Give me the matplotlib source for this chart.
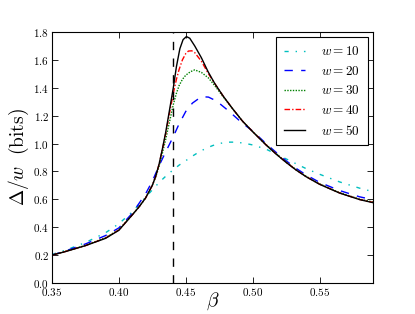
import matplotlib
matplotlib.use("Agg")
import matplotlib.pyplot as plt
from matplotlib.ticker import FuncFormatter, MultipleLocator

plt.rcParams['mathtext.fontset'] = 'cm'
plt.rcParams['font.family'] = 'serif'
plt.rcParams['font.serif'] = ['DejaVu Serif']

beta_c = 0.4407

# values: beta -> Delta/w (bits)
b10 = [0.35, 0.36, 0.375, 0.39, 0.40, 0.41, 0.42, 0.43, 0.4355, 0.4407, 0.445, 0.45, 0.455,
       0.46, 0.465, 0.47, 0.475, 0.481, 0.487, 0.4935, 0.50, 0.51, 0.525, 0.54, 0.55, 0.565,
       0.58, 0.59]
d10 = [0.205, 0.235, 0.29, 0.36, 0.425, 0.51, 0.615, 0.72, 0.77, 0.812, 0.845, 0.877, 0.91,
       0.94, 0.965, 0.985, 1.0, 1.01, 1.01, 1.003, 0.99, 0.96, 0.89, 0.82, 0.78, 0.725,
       0.68, 0.655]

b20 = [0.35, 0.36, 0.375, 0.39, 0.40, 0.41, 0.42, 0.425, 0.43, 0.435, 0.4407, 0.445, 0.45,
       0.455, 0.4617, 0.467, 0.473, 0.48, 0.486, 0.4918, 0.50, 0.51, 0.5175, 0.525, 0.5325,
       0.54, 0.55, 0.565, 0.58, 0.59]
d20 = [0.20, 0.23, 0.28, 0.34, 0.395, 0.50, 0.64, 0.73, 0.84, 0.94, 1.05, 1.14, 1.23,
       1.29, 1.336, 1.333, 1.305, 1.25, 1.20, 1.15, 1.09, 1.00, 0.937, 0.877, 0.822,
       0.775, 0.722, 0.663, 0.618, 0.597]

b30 = [0.35, 0.36, 0.375, 0.39, 0.40, 0.41, 0.415, 0.42, 0.425, 0.4275, 0.43, 0.4325, 0.435,
       0.4375, 0.4407, 0.443, 0.445, 0.4475, 0.45, 0.4535, 0.4567, 0.4617, 0.467, 0.4717,
       0.478, 0.485, 0.4925, 0.50, 0.51, 0.5175, 0.525, 0.5325, 0.54, 0.55, 0.565, 0.58, 0.59]
d30 = [0.20, 0.227, 0.27, 0.325, 0.382, 0.49, 0.545, 0.61, 0.70, 0.76, 0.835, 0.93, 1.03,
       1.14, 1.28, 1.36, 1.415, 1.46, 1.49, 1.515, 1.528, 1.51, 1.47, 1.415, 1.335, 1.25,
       1.16, 1.087, 0.993, 0.928, 0.868, 0.813, 0.765, 0.711, 0.648, 0.601, 0.581]

b40 = [0.35, 0.36, 0.375, 0.39, 0.40, 0.41, 0.415, 0.42, 0.425, 0.4275, 0.43, 0.4325, 0.435,
       0.4375, 0.4407, 0.443, 0.445, 0.4475, 0.45, 0.452, 0.4545, 0.4567, 0.4617, 0.4667,
       0.4717, 0.478, 0.485, 0.4925, 0.50, 0.51, 0.5175, 0.525, 0.5325, 0.54, 0.55, 0.565,
       0.58, 0.59]
d40 = [0.20, 0.226, 0.268, 0.322, 0.38, 0.488, 0.545, 0.61, 0.70, 0.763, 0.85, 0.955, 1.07,
       1.20, 1.36, 1.46, 1.53, 1.60, 1.645, 1.663, 1.665, 1.652, 1.59, 1.505, 1.43, 1.34,
       1.25, 1.16, 1.086, 0.991, 0.926, 0.866, 0.811, 0.763, 0.709, 0.646, 0.599, 0.578]

b50 = [0.35, 0.36, 0.375, 0.39, 0.40, 0.41, 0.415, 0.42, 0.425, 0.4275, 0.43, 0.4325, 0.435,
       0.4375, 0.4407, 0.443, 0.4456, 0.448, 0.4505, 0.453, 0.4567, 0.4617, 0.4667, 0.4717,
       0.478, 0.485, 0.4925, 0.50, 0.51, 0.5175, 0.525, 0.5325, 0.54, 0.55, 0.565, 0.58, 0.59]
d50 = [0.20, 0.225, 0.268, 0.32, 0.378, 0.488, 0.545, 0.61, 0.70, 0.765, 0.85, 0.96, 1.08,
       1.22, 1.40, 1.55, 1.68, 1.745, 1.767, 1.755, 1.70, 1.615, 1.515, 1.43, 1.34, 1.25,
       1.16, 1.085, 0.99, 0.925, 0.865, 0.81, 0.762, 0.708, 0.645, 0.598, 0.576]

fig = plt.figure(figsize=(4.15, 3.14), dpi=100)
ax = fig.add_axes([0.1253, 0.0987, 0.7735, 0.7995])

ax.plot(b10, d10, color='c', linestyle='-.', dashes=(3, 5, 1, 5), lw=1.0, label=r'$w = 10$')
ax.plot(b20, d20, color='b', linestyle='--', dashes=(6, 6), lw=1.0, label=r'$w = 20$')
ax.plot(b30, d30, color='g', linestyle=':', dashes=(1, 1), lw=1.0, label=r'$w = 30$')
ax.plot(b40, d40, color='r', linestyle='-.', dashes=(4, 1.5, 1, 1.5), lw=1.0, label=r'$w = 40$')
ax.plot(b50, d50, color='k', linestyle='-', lw=1.0, label=r'$w = 50$')
ax.axvline(beta_c, color='k', linestyle='--', dashes=(6, 6), lw=1.0)

ax.set_xlim(0.35, 0.59)
ax.set_ylim(0.0, 1.8)
ax.xaxis.set_major_locator(MultipleLocator(0.05))
ax.yaxis.set_major_locator(MultipleLocator(0.2))
ax.xaxis.set_major_formatter(FuncFormatter(lambda v, p: r'$%.2f$' % v))
ax.yaxis.set_major_formatter(FuncFormatter(lambda v, p: r'$%.1f$' % v))
ax.tick_params(direction='in', top=True, right=True, labelsize=8, length=4, width=0.6, pad=2)

ax.set_xlabel(r'$\beta$', fontsize=14, labelpad=-5)
ax.set_ylabel(r'$\Delta/w\ \ \mathrm{(bits)}$', fontsize=14, labelpad=2)

leg = ax.legend(loc='upper right', fontsize=9.5, fancybox=False, framealpha=1,
                edgecolor='k', borderaxespad=0.4, handlelength=1.6, labelspacing=0.5,
                handletextpad=1.2, borderpad=0.6)
leg.get_frame().set_linewidth(0.8)

fig.savefig('out.png', dpi=100)
